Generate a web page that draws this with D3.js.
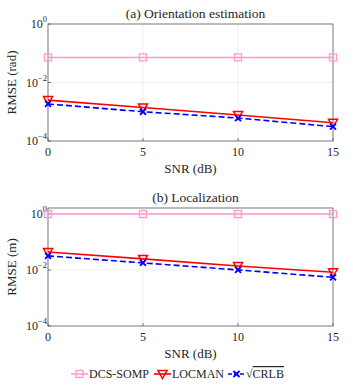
<!DOCTYPE html>
<html>
<head>
<meta charset="utf-8">
<script src="https://cdn.jsdelivr.net/npm/d3@7"></script>
<style>
body { margin: 0; background: #fff; }
text { font-family: "Liberation Serif", "DejaVu Serif", serif; fill: #262626; }
</style>
</head>
<body>
<svg></svg>
<script>
const width = 353, height = 391;
const snr = [0, 5, 10, 15];

// (a) orientation, rad
const orientSomp = [0.072, 0.072, 0.072, 0.072];
const orientLocman = [0.0025, 0.0014, 0.00077, 0.00042];
const orientCrlb = [0.00185, 0.001, 0.00061, 0.00031];

// (b) localization, m
const locSomp = [1.0, 1.0, 1.0, 1.0];
const locLocman = [0.044, 0.025, 0.014, 0.0083];
const locCrlb = [0.032, 0.018, 0.0101, 0.0055];

const xTicks = [0, 5, 10, 15];
const yTicks = [-4, -2, 0];

const pink = "#ff99cc", red = "#ff0000", blue = "#0000ff";

let svg = d3.select("svg").attr("width", width).attr("height", height);

const left = 48, right = 333;

function panel(top, bottom, yMax, title, ylabel, somp, locman, crlb) {
    let g = svg.append("g");
    let x = d3.scaleLinear().domain([0, 15]).range([left, right]);
    let y = d3.scaleLog().domain([1e-4, yMax]).range([bottom, top]);

    // grid
    g.selectAll(".gx").data(xTicks.slice(1, 3)).enter().append("line")
        .attr("x1", d => x(d)).attr("x2", d => x(d))
        .attr("y1", top).attr("y2", bottom)
        .style("stroke", "#e6e6e6").style("stroke-width", 0.7);
    g.selectAll(".gy").data(yTicks.filter(e => Math.pow(10, e) < yMax && e > -4)).enter().append("line")
        .attr("x1", left).attr("x2", right)
        .attr("y1", d => y(Math.pow(10, d))).attr("y2", d => y(Math.pow(10, d)))
        .style("stroke", "#e6e6e6").style("stroke-width", 0.7);

    // tick marks inside
    g.selectAll(".tx").data(xTicks).enter().append("line")
        .attr("x1", d => x(d)).attr("x2", d => x(d))
        .attr("y1", bottom).attr("y2", bottom - 3)
        .style("stroke", "#262626").style("stroke-width", 0.6);
    g.selectAll(".ty").data(yTicks).enter().append("line")
        .attr("x1", left).attr("x2", left + 3)
        .attr("y1", d => y(Math.pow(10, d))).attr("y2", d => y(Math.pow(10, d)))
        .style("stroke", "#262626").style("stroke-width", 0.6);

    // box
    g.append("rect").attr("x", left).attr("y", top)
        .attr("width", right - left).attr("height", bottom - top)
        .style("fill", "none").style("stroke", "#555").style("stroke-width", 0.8);

    // tick labels
    g.selectAll(".lx").data(xTicks).enter().append("text")
        .attr("x", d => x(d)).attr("y", bottom + 15)
        .attr("text-anchor", "middle").style("font-size", "12px")
        .text(d => d);
    let ly = g.selectAll(".ly").data(yTicks).enter().append("text")
        .attr("x", left - 1).attr("y", d => y(Math.pow(10, d)) + 4)
        .attr("text-anchor", "end").style("font-size", "12px");
    ly.append("tspan").text("10");
    ly.append("tspan").attr("dy", -6).style("font-size", "8.5px")
        .text(d => d < 0 ? "\u2212" + (-d) : d);

    g.append("text").attr("x", (left + right) / 2 + 5).attr("y", top - 6)
        .attr("text-anchor", "middle").style("font-size", "13.5px").text(title);
    g.append("text").attr("x", (left + right) / 2).attr("y", bottom + 32)
        .attr("text-anchor", "middle").style("font-size", "13px").text("SNR (dB)");
    g.append("text")
        .attr("transform", "translate(16," + ((top + bottom) / 2) + ") rotate(-90)")
        .attr("text-anchor", "middle").style("font-size", "13px").text(ylabel);

    let line = d3.line().x((d, i) => x(snr[i])).y(d => y(d));

    g.append("path").datum(somp).attr("d", line)
        .style("fill", "none").style("stroke", pink).style("stroke-width", 1.5);
    g.append("path").datum(locman).attr("d", line)
        .style("fill", "none").style("stroke", red).style("stroke-width", 1.6);
    g.append("path").datum(crlb).attr("d", line)
        .style("fill", "none").style("stroke", blue).style("stroke-width", 1.6)
        .style("stroke-dasharray", "6,3");

    somp.forEach((d, i) => squareMark(g, x(snr[i]), y(d)));
    locman.forEach((d, i) => triMark(g, x(snr[i]), y(d)));
    crlb.forEach((d, i) => crossMark(g, x(snr[i]), y(d)));
}

function squareMark(g, cx, cy) {
    g.append("rect").attr("x", cx - 3.5).attr("y", cy - 3.5)
        .attr("width", 7).attr("height", 7)
        .style("fill", "none").style("stroke", pink).style("stroke-width", 1.3);
}
function triMark(g, cx, cy) {
    g.append("path")
        .attr("d", "M" + (cx - 4.5) + "," + (cy - 3.5) + "L" + (cx + 4.5) + "," + (cy - 3.5) + "L" + cx + "," + (cy + 4.5) + "Z")
        .style("fill", "none").style("stroke", red).style("stroke-width", 1.5);
}
function crossMark(g, cx, cy) {
    g.append("path")
        .attr("d", "M" + (cx - 3) + "," + (cy - 3) + "L" + (cx + 3) + "," + (cy + 3) + "M" + (cx - 3) + "," + (cy + 3) + "L" + (cx + 3) + "," + (cy - 3))
        .style("fill", "none").style("stroke", blue).style("stroke-width", 1.8);
}

panel(24, 141, 1, "(a) Orientation estimation", "RMSE (rad)", orientSomp, orientLocman, orientCrlb);
panel(208, 326, 1.65, "(b) Localization", "RMSE (m)", locSomp, locLocman, locCrlb);

// legend
const legY = 374;
let leg = svg.append("g");
leg.append("line").attr("x1", 71).attr("x2", 88).attr("y1", legY).attr("y2", legY)
    .style("stroke", pink).style("stroke-width", 1.5);
squareMark(leg, 79.5, legY);
leg.append("text").attr("x", 89).attr("y", legY + 4).style("font-size", "12px").text("DCS-SOMP");

leg.append("line").attr("x1", 154).attr("x2", 171).attr("y1", legY).attr("y2", legY)
    .style("stroke", red).style("stroke-width", 1.6);
triMark(leg, 162.5, legY);
leg.append("text").attr("x", 172).attr("y", legY + 4).style("font-size", "12px").text("LOCMAN");

leg.append("line").attr("x1", 228).attr("x2", 245).attr("y1", legY).attr("y2", legY)
    .style("stroke", blue).style("stroke-width", 1.6).style("stroke-dasharray", "4,2");
crossMark(leg, 236.5, legY);
let crlbText = leg.append("text").attr("x", 246).attr("y", legY + 4).style("font-size", "12px");
crlbText.append("tspan").text("\u221A");
crlbText.append("tspan").style("text-decoration", "overline").text("CRLB");
</script>
</body>
</html>
